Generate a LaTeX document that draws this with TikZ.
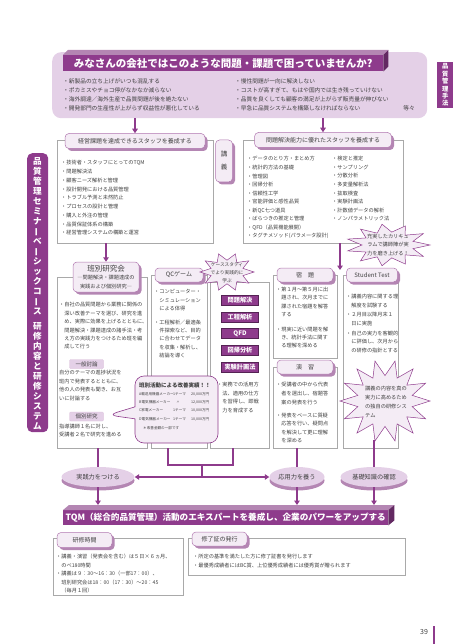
\documentclass[tikz,border=0pt]{standalone}
\usepackage{fontspec}
\setmainfont{Noto Sans CJK JP}
\usepackage{graphicx}
\usetikzlibrary{calc,shapes.geometric,shapes.callouts,shadows,arrows.meta}

\definecolor{plum}{HTML}{8E3B8C}
\definecolor{lilac}{HTML}{E4D0E7}
\definecolor{pale}{HTML}{F4ECF5}
\definecolor{mauve}{HTML}{B486B3}
\definecolor{ink}{HTML}{404040}
\definecolor{rule}{HTML}{A9A9A9}

\newcommand\lst{\fontsize{5.2}{8.4}\selectfont}
\newcommand\ind{\hspace*{1em}}
\newcommand\vbar{\rotatebox[origin=c]{90}{ー}}
\newcommand\gainrow[3]{\makebox[34pt][l]{#1}\makebox[15pt][l]{#2}\makebox[21pt][r]{#3}}
% centre x, centre y, half width, half height, points
\newcommand\burstshape[5]{%
  \pgfmathtruncatemacro\lastk{2*#5-1}%
  \filldraw[burstline] ({#1+#3},{#2})
    \foreach \k in {1,...,\lastk}{ -- ({#1+(0.81+0.19*cos(\k*180))*#3*cos(\k*180/#5)},{#2+(0.81+0.19*cos(\k*180))*#4*sin(\k*180/#5)}) }
    -- cycle;}

\tikzset{
  colframe/.style={draw=rule, line width=0.5pt, anchor=north west, inner sep=0pt, outer sep=0pt},
  tabbox/.style={draw=plum!70, line width=0.5pt, fill=pale, rounded corners=4pt, inner sep=1pt,
    font=\fontsize{6}{8}\selectfont,
    drop shadow={shadow xshift=2.5pt, shadow yshift=-2.5pt, fill=mauve, opacity=1}},
  listtext/.style={anchor=north west, align=left, inner sep=0pt, font=\lst},
  minitag/.style={fill=lilac, draw=plum!35, line width=0.3pt, rounded corners=1pt, minimum width=34pt,
    minimum height=9pt, inner sep=0pt, font=\fontsize{5.5}{6}\selectfont},
  badge/.style={fill=plum, draw=plum!60!black, line width=0.3pt, minimum width=37pt, minimum height=10pt,
    inner sep=0pt, text=white, font=\bfseries\fontsize{6.2}{7}\selectfont},
  burstline/.style={fill=pale, draw=plum, line width=0.5pt, line join=miter},
  disc/.style={ellipse, fill=lilac, minimum height=20pt, inner sep=0pt, font=\fontsize{6.2}{7}\selectfont,
    drop shadow={shadow xshift=0pt, shadow yshift=-3.5pt, fill=mauve, opacity=1}},
  flow/.style={draw=plum, line width=1.3pt, -{Triangle[width=5.5pt,length=4.5pt]}},
  link/.style={draw=plum, line width=1.3pt},
  both/.style={link, {Triangle[width=5.5pt,length=4.5pt]}-{Triangle[width=5.5pt,length=4.5pt]}},
}

\begin{document}
\begin{tikzpicture}[x=1pt, y=-1pt, text=ink]
\useasboundingbox (0,0) rectangle (455,644);

\node[fill=lilac, rounded corners=9pt, anchor=north west, minimum width=375pt, minimum height=66pt, inner sep=0pt] (woes) at (52,52) {};
\node[fill=plum, anchor=north west, minimum width=320pt, minimum height=16pt, inner sep=0pt, text=white,
  font=\bfseries\fontsize{10.5}{12}\selectfont] (headline) at (63,55) {みなさんの会社ではこのような問題・課題で困っていませんか?};
\fill[mauve] (headline.north west) -- ++(5,-5) -- ($(headline.north east)+(5,-5)$) -- (headline.north east) -- cycle;
\fill[plum!70!black] (headline.north east) -- ++(5,-5) -- ($(headline.south east)+(5,-5)$) -- (headline.south east) -- cycle;
\node[listtext, font=\fontsize{5.7}{9}\selectfont] (woesL) at (63,78) {・新製品の立ち上げがいつも混乱する\\・ポカミスやチョコ停がなかなか減らない\\・海外調達／海外生産で品質問題が後を絶たない\\・開発部門の生産性が上がらず収益性が悪化している};
\node[listtext, font=\fontsize{5.7}{9}\selectfont] (woesR) at (235,78) {・慢性問題が一向に解決しない\\・コストが高すぎて、もはや国内では生き残っていけない\\・品質を良くしても顧客の満足が上がらず販売量が伸びない\\・早急に品質システムを構築しなければならない};
\node[inner sep=0pt, font=\fontsize{5.7}{9}\selectfont] (etc) at (409,108) {等々};

\node[fill=plum, anchor=north west, minimum width=16pt, minimum height=46pt, inner sep=0pt, text=white, align=center,
  font=\bfseries\fontsize{6.3}{7.4}\selectfont] (sidetab) at (437,62) {品\\質\\管\\理\\手\\法};
\node[fill=plum, rounded corners=5pt, anchor=north west, minimum width=21pt, minimum height=279pt, inner sep=0pt] (spine) at (27,153) {};
\node[anchor=north, align=center, inner sep=0pt, text=white, font=\bfseries\fontsize{8.6}{10}\selectfont] (spinetext) at (37.5,157.5)
  {品\\質\\管\\理\\セ\\ミ\\ナ\\\vbar\\ベ\\\vbar\\シ\\ッ\\ク\\コ\\\vbar\\ス\\[4.5pt]研\\修\\内\\容\\と\\研\\修\\シ\\ス\\テ\\ム};

\node[colframe, minimum width=156pt, minimum height=103pt] (lecA) at (57,140) {};
\node[colframe, minimum width=160pt, minimum height=103pt] (lecB) at (243,140) {};
\node[tabbox, minimum width=140pt, minimum height=15pt] (staffA) at (135,141) {経営課題を達成できるスタッフを養成する};
\node[tabbox, minimum width=137pt, minimum height=15pt] (staffB) at (323,140) {問題解決能力に優れたスタッフを養成する};
\node[tabbox, minimum width=17pt, minimum height=42pt, align=center, font=\fontsize{6.5}{13}\selectfont] (lecture) at (224,161) {講\\義};
\draw[flow] (woes.south -| staffA.north) -- (staffA.north);
\draw[flow] (woes.south -| staffB.north) -- (staffB.north);
\node[listtext, font=\fontsize{5.2}{8.75}\selectfont] (lecAitems) at (61,160.3) {・技術者・スタッフにとってのTQM\\・問題解決法\\・顧客ニーズ解析と管理\\・設計開発における品質管理\\・トラブル予測と未然防止\\・プロセスの設計と管理\\・購入と外注の管理\\・品質保証体系の構築\\・経営管理システムの構築と運営};
\node[listtext, font=\fontsize{5.2}{8.55}\selectfont] (lecBone) at (247,156.3) {・データのとり方・まとめ方\\・統計的方法の基礎\\・管理図\\・回帰分析\\・信頼性工学\\・官能評価と感性品質\\・新QC七つ道具\\・ばらつきの推定と管理\\・QFD（品質機能展開）\\・タグチメソッド(パラメータ設計)};
\node[listtext, font=\fontsize{5.2}{8.55}\selectfont] (lecBtwo) at (332,156.3) {・検定と推定\\・サンプリング\\・分散分析\\・多変量解析法\\・抜取検査\\・実験計画法\\・計数値データの解析\\・ノンパラメトリック法};

\node[colframe, minimum width=90pt, minimum height=171pt] (fHan) at (57,277) {};
\node[colframe, minimum width=56pt, minimum height=173pt] (fQC) at (151,275) {};
\node[colframe, minimum width=59pt, minimum height=166pt] (fCase) at (210,282) {};
\node[colframe, minimum width=64pt, minimum height=83pt] (fHw) at (273,275) {};
\node[colframe, minimum width=64pt, minimum height=81pt] (fEx) at (273,367) {};
\node[colframe, minimum width=55pt, minimum height=173pt] (fST) at (343,275) {};

\node[tabbox, minimum width=66pt, minimum height=30pt, align=center, font=\lst] (hanbetsu) at (106,277)
  {{\fontsize{7.5}{8}\selectfont 班別研究会}\\―問題解決・課題達成の\\実践および個別研究―};
\node[tabbox, minimum width=48pt, minimum height=14pt] (qcgame) at (179,275) {QCゲーム};
\node[tabbox, minimum width=56pt, minimum height=14pt] (homework) at (305,275) {宿　題};
\node[tabbox, minimum width=56pt, minimum height=14pt] (exercise) at (305,367) {演　習};
\node[tabbox, minimum width=51pt, minimum height=14pt] (sttest) at (372,275) {Student Test};
\coordinate (gap) at (340,270);
\draw[flow] (lecA.south -| hanbetsu.north) -- (hanbetsu.north);
\draw[flow] (lecB.south -| gap) -- (gap);

\node[listtext] (hantext) at (59,302.3) {・自社の品質問題から業務に関係の\\\ind 深い改善テーマを選び、研究を進\\\ind め、実際に効果を上げるとともに、\\\ind 問題解決・課題達成の諸手法・考\\\ind え方の実践力をつけるため班を編\\\ind 成して行う};
\node[minitag] (talktag) at (86.5,364) {一般討論};
\node[listtext] (talktext) at (59,370.3) {自分のテーマの進捗状況を\\班内で発表するとともに、\\他の人の発表も聞き、お互\\いに討論する};
\node[minitag] (solotag) at (86.5,416.5) {個別研究};
\node[listtext, font=\fontsize{5.2}{8}\selectfont] (solotext) at (59,424.3) {指導講師１名に対し、\\受講者２名で研究を進める};

\node[listtext, font=\fontsize{5.2}{8.3}\selectfont] (qctext) at (154,289.3) {・コンピューター・\\\ind シミュレーション\\\ind による体得\\[5.7pt]・工程解析／最適条\\\ind 件探索など、目的\\\ind に合わせてデータ\\\ind を収集・解析し、\\\ind 結論を導く};
\node[badge] (b1) at (240,300.5) {問題解決};
\node[badge] (b2) at (240,317) {工程解析};
\node[badge] (b3) at (240,333.5) {QFD};
\node[badge] (b4) at (240,350.5) {回帰分析};
\node[badge] (b5) at (240,367) {実験計画法};
\node[listtext] (casetext) at (217,382.3) {・実務での活用方\\\ind 法、適用の仕方\\\ind を習得し、即戦\\\ind 力を育成する};
\node[listtext, font=\fontsize{5.2}{8.1}\selectfont] (hwtext) at (276,287.3) {・第１月〜第５月に出\\\ind 題され、次月までに\\\ind 課された宿題を解答\\\ind する\\[7.5pt]・現実に近い問題を解\\\ind き、統計手法に関す\\\ind る理解を深める};
\node[listtext, font=\fontsize{5.2}{8.6}\selectfont] (extext) at (276,382.3) {・受講者の中から代表\\\ind 者を選出し、宿題答\\\ind 案の発表を行う\\[4.5pt]・発表をベースに質疑\\\ind 応答を行い、疑問点\\\ind を解決して更に理解\\\ind を深める};
\node[listtext, font=\fontsize{5.2}{8.5}\selectfont] (sttext) at (346,294.3) {・講義内容に関する理\\\ind 解度を試験する\\[1pt]・２月目以降月末１\\\ind 日に実施\\[1.5pt]・自己の実力を客観的\\\ind に評価し、次月から\\\ind の研修の指針とする};

\burstshape{388}{245}{42}{21}{11}
\node[align=center, inner sep=0pt, font=\lst] (curriculum) at (388,245) {充実したカリキュ\\ラムで講師陣が実\\力を磨き上げる！};
\burstshape{227}{272}{27}{19}{10}
\node[align=center, inner sep=0pt, font=\fontsize{4.7}{8.3}\selectfont] (casestudy) at (227,272.5) {ケーススタディ\\でより実践的に\\学ぶ};
\burstshape{385}{401}{45}{41}{14}
\node[align=left, inner sep=0pt, font=\fontsize{5.2}{9.2}\selectfont] (system) at (386,402) {講義の内容を真の\\実力に高めるため\\の独自の研修シス\\テム};
\coordinate (systemfoot) at (374,440);

\node[disc, minimum width=73pt] (practice) at (98,477) {実践力をつける};
\node[disc, minimum width=55pt] (apply) at (297,477) {応用力を養う};
\node[disc, minimum width=67pt] (basics) at (374,477) {基礎知識の確認};
\coordinate (qcdrop) at (168,448);
\coordinate (casedrop) at (233,448);
\coordinate (junction) at (202,465);
\draw[link] (fHan.south -| practice.north) -- (practice.north);
\draw[link] (qcdrop) |- (junction) -| (casedrop);
\draw[link] (junction) -- (junction |- practice.east);
\draw[both] (practice.east) -- (apply.west);
\draw[link] (fEx.south -| apply.north) -- (apply.north);
\draw[link] (systemfoot) -- (basics.north);

\node[rectangle callout, rounded corners=9pt, fill=pale, draw=plum, line width=0.6pt, minimum width=83pt, minimum height=67pt,
  inner sep=0pt, callout absolute pointer={(108,415)}, callout pointer width=12pt] (gains) at (176.5,409.5) {};
\node[anchor=west, inner sep=0pt, font=\bfseries\fontsize{5.5}{6}\selectfont] (gainshead) at (139,385) {班別活動による改善実績！！};
\node[listtext, font=\fontsize{3.6}{8.2}\selectfont] (gainsrows) at (139,392.2)
  {\gainrow{A輸送用機器メーカー}{1テーマ}{20,000万円}\\\gainrow{B電気機器メーカー}{\hspace*{3pt}〃}{12,000万円}\\\gainrow{C家電メーカー}{1テーマ}{10,000万円}\\\gainrow{D電気機器メーカー}{1テーマ}{10,000万円}};
\node[anchor=west, inner sep=0pt, font=\fontsize{3.6}{4}\selectfont] (gainsnote) at (143,428) {＊改善金額の一部です};

\node[fill=plum, anchor=north west, minimum width=325pt, minimum height=15pt, inner sep=0pt, text=white,
  font=\bfseries\fontsize{8.6}{10}\selectfont] (tqm) at (63,510) {TQM（総合的品質管理）活動のエキスパートを養成し、企業のパワーをアップする};
\fill[mauve] (tqm.north west) -- ++(6,-5) -- ($(tqm.north east)+(6,-5)$) -- (tqm.north east) -- cycle;
\fill[plum!70!black] (tqm.north east) -- ++(6,-5) -- ($(tqm.south east)+(6,-5)$) -- (tqm.south east) -- cycle;
\coordinate (tqmtop) at ($(tqm.north)+(0,-5)$);
\draw[flow] (practice.south) -- (practice.south |- tqmtop);
\draw[flow] (apply.south) -- (apply.south |- tqmtop);
\draw[flow] (basics.south) -- (basics.south |- tqmtop);

\node[colframe, minimum width=130pt, minimum height=57pt] (hoursbox) at (53,538) {};
\node[colframe, minimum width=217pt, minimum height=37pt] (certbox) at (188,538) {};
\node[tabbox, minimum width=55pt, minimum height=15pt] (hourstab) at (84.5,540) {研修時間};
\node[tabbox, minimum width=55pt, minimum height=14pt] (certtab) at (219.5,539) {修了証の発行};
\node[listtext] (hourstext) at (56,554.3) {・講義・演習（発表会を含む）は５日×６ヵ月、\\\ind のべ180時間\\・講義は９：30〜16：30（一部17：00）、\\\ind 班別研究会は18：00（17：30）〜20：45\\\ind （毎月１回）};
\node[listtext, font=\fontsize{5.2}{9}\selectfont] (certtext) at (193,554.3) {・所定の基準を満たした方に修了証書を発行します\\・最優秀成績者にはBC賞、上位優秀成績者には優秀賞が贈られます};

\node[inner sep=0pt, font=\fontsize{7}{8}\selectfont] (pagenum) at (424,632) {39};
\draw[plum, line width=2.5pt] (434,626) -- (434,644);
\end{tikzpicture}
\end{document}
